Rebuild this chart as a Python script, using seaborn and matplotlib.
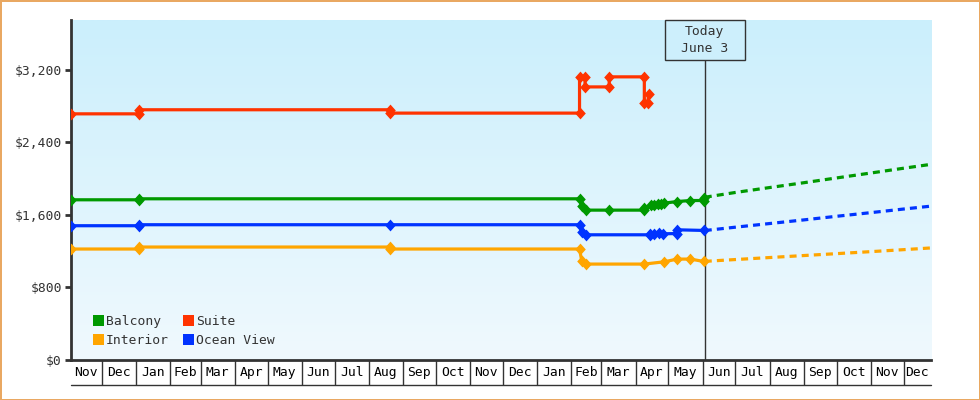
import matplotlib
matplotlib.use("Agg")
import numpy as np
import pandas as pd
import matplotlib.pyplot as plt
import matplotlib.dates as mdates
from matplotlib.patches import Patch, Rectangle
from matplotlib.path import Path
from matplotlib.lines import Line2D
from matplotlib.colors import LinearSegmentedColormap
from matplotlib.ticker import FixedLocator, FixedFormatter, NullFormatter, StrMethodFormatter
import seaborn as sns

sns.set_theme(style="white")
plt.rcParams["font.family"] = ["DejaVu Sans Mono", "DejaVu Sans"]

# ---- data ----
cabins = ["Balcony", "Interior", "Suite", "Ocean View"]
cabin_colors = ["#009900", "#ffa500", "#ff3300", "#0033ff"]

balcony_dates = ["2020-11-03", "2021-01-04", "2021-01-04", "2022-02-09", "2022-02-11", "2022-02-15",
                 "2022-03-08", "2022-04-09", "2022-04-09", "2022-04-15", "2022-04-18", "2022-04-21",
                 "2022-04-24", "2022-04-27", "2022-05-09", "2022-05-21", "2022-06-02", "2022-06-02"]
balcony_prices = [1767, 1767, 1778, 1778, 1701, 1653,
                  1653, 1653, 1675, 1705, 1712, 1720,
                  1725, 1730, 1748, 1759, 1759, 1786]

interior_dates = ["2020-11-03", "2021-01-04", "2021-01-04", "2021-08-20", "2021-08-20", "2022-02-09",
                  "2022-02-11", "2022-02-15", "2022-04-09", "2022-04-27", "2022-05-09", "2022-05-21",
                  "2022-06-02"]
interior_prices = [1224, 1224, 1246, 1246, 1224, 1224,
                   1094, 1058, 1058, 1083, 1113, 1113,
                   1087]

suite_dates = ["2020-11-03", "2021-01-04", "2021-01-04", "2021-08-20", "2021-08-20", "2022-02-09",
               "2022-02-09", "2022-02-14", "2022-02-14", "2022-03-08", "2022-03-08", "2022-04-09",
               "2022-04-09", "2022-04-12", "2022-04-13"]
suite_prices = [2715, 2715, 2760, 2760, 2723, 2723,
                3123, 3123, 3012, 3012, 3123, 3123,
                2836, 2836, 2935]

ocean_dates = ["2020-11-03", "2021-01-04", "2021-01-04", "2021-08-20", "2022-02-09", "2022-02-11",
               "2022-02-15", "2022-04-14", "2022-04-14", "2022-04-18", "2022-04-22", "2022-04-26",
               "2022-05-09", "2022-05-09", "2022-06-02"]
ocean_prices = [1481, 1481, 1492, 1492, 1492, 1407,
                1381, 1381, 1390, 1395, 1400, 1392,
                1395, 1436, 1429]

forecast_dates = ["2022-06-03", "2022-07-01", "2022-08-01", "2022-09-01",
                  "2022-10-01", "2022-11-01", "2022-12-01", "2022-12-26"]
balcony_forecast = [1795, 1848, 1902, 1955, 2008, 2062, 2115, 2158]
interior_forecast = [1088, 1108, 1130, 1152, 1173, 1195, 1217, 1236]
ocean_forecast = [1428, 1465, 1505, 1545, 1585, 1625, 1665, 1697]

y_ticks = [0, 800, 1600, 2400, 3200]
month_labels = ["Nov", "Dec", "Jan", "Feb", "Mar", "Apr", "May", "Jun", "Jul", "Aug", "Sep", "Oct", "Nov",
                "Dec", "Jan", "Feb", "Mar", "Apr", "May", "Jun", "Jul", "Aug", "Sep", "Oct", "Nov", "Dec"]
x_start, x_end = "2020-11-03", "2022-12-26"
today, today_label = "2022-06-03", "Today\nJune 3"

# ---- tidy frames ----
hist = pd.concat([
    pd.DataFrame({"date": pd.to_datetime(d), "price": p, "cabin": c})
    for c, d, p in [("Balcony", balcony_dates, balcony_prices),
                    ("Interior", interior_dates, interior_prices),
                    ("Suite", suite_dates, suite_prices),
                    ("Ocean View", ocean_dates, ocean_prices)]
], ignore_index=True)
fc = pd.concat([
    pd.DataFrame({"date": pd.to_datetime(forecast_dates), "price": p, "cabin": c})
    for c, p in [("Balcony", balcony_forecast), ("Interior", interior_forecast),
                 ("Ocean View", ocean_forecast)]
], ignore_index=True)
palette = dict(zip(cabins, cabin_colors))

ink = "#333333"
fs = 9.4

fig = plt.figure(figsize=(9.8, 4), dpi=100)
fig.patch.set_facecolor("white")
fig.patch.set_edgecolor("#e9a862")
fig.patch.set_linewidth(2)
ax = fig.add_axes([71 / 980, 40 / 400, 860 / 980, 340 / 400])

# slightly tall, rounded-looking diamond like the original markers
diamond = Path([(0, 1), (0.9, 0), (0, -1), (-0.9, 0), (0, 1)],
               [Path.MOVETO, Path.LINETO, Path.LINETO, Path.LINETO, Path.CLOSEPOLY])

sns.lineplot(data=hist, x="date", y="price", hue="cabin", hue_order=cabins, palette=palette,
             estimator=None, sort=False, legend=False, linewidth=2.3,
             marker=diamond, markersize=8.5, markeredgewidth=0, ax=ax, zorder=3)
sns.lineplot(data=fc, x="date", y="price", hue="cabin", palette=palette,
             estimator=None, sort=False, legend=False, linewidth=2.3,
             linestyle=(0, (2.2, 1.6)), ax=ax, zorder=3)

x0, x1 = mdates.date2num(pd.Timestamp(x_start)), mdates.date2num(pd.Timestamp(x_end))
t = mdates.date2num(pd.Timestamp(today))
px_day = 860 / (x1 - x0)

# gradient background
grad = np.linspace(0, 1, 256).reshape(-1, 1)
bg = LinearSegmentedColormap.from_list("bg", ["#f0f9fe", "#cbeffc"])
ax.imshow(grad, extent=(0, 1, 0, 1), transform=ax.transAxes, aspect="auto",
          cmap=bg, origin="lower", zorder=0)

# today marker
ax.axvline(t, ymin=0, ymax=1 - 40 / 340, color=ink, lw=1, zorder=2)
ax.add_patch(Rectangle((t - 40 / px_day, 1 - 40 / 340), 80 / px_day, 40 / 340,
                       transform=ax.get_xaxis_transform(), facecolor="#cdeffc",
                       edgecolor=ink, lw=1, clip_on=False, zorder=5))
ax.text(t, 1 - 20 / 340, today_label, transform=ax.get_xaxis_transform(), ha="center",
        va="center", linespacing=1.45, fontsize=fs, color=ink, zorder=6)

# month boxes on the x axis
bounds = mdates.date2num(pd.date_range("2020-12-01", "2022-12-01", freq="MS"))
edges = np.concatenate([[x0], bounds, [x1]])
mids = (edges[:-1] + edges[1:]) / 2
ax.xaxis.set_major_locator(FixedLocator(bounds))
ax.xaxis.set_major_formatter(NullFormatter())
ax.xaxis.set_minor_locator(FixedLocator(mids))
ax.xaxis.set_minor_formatter(FixedFormatter(month_labels))
ax.tick_params(axis="x", which="major", length=18, width=1, color=ink, direction="out", bottom=True)
ax.tick_params(axis="x", which="minor", length=0, pad=4.5, labelsize=fs, labelcolor="black", bottom=True)
ax.add_line(Line2D([x0, x1], [-25 / 340, -25 / 340], transform=ax.get_xaxis_transform(),
                   color=ink, lw=1, clip_on=False))

ax.set_yticks(y_ticks)
ax.yaxis.set_major_formatter(StrMethodFormatter("${x:,.0f}"))
ax.tick_params(axis="y", length=4, width=2, color=ink, direction="out", pad=2.5,
               labelsize=fs, labelcolor=ink, left=True)

for side in ["top", "right"]:
    ax.spines[side].set_visible(False)
for side in ["left", "bottom"]:
    ax.spines[side].set_color(ink)
    ax.spines[side].set_linewidth(2)

ax.set_xlim(x0, x1)
ax.set_ylim(0, 3750)
ax.set_xlabel("")
ax.set_ylabel("")
ax.grid(False)

handles = [Patch(facecolor=palette[c], edgecolor="none") for c in cabins]
ax.legend(handles, cabins, ncol=2, loc="lower left", bbox_to_anchor=(22 / 860, 13 / 340),
          frameon=False, borderaxespad=0, borderpad=0, handlelength=0.85, handleheight=0.9,
          handletextpad=0.15, columnspacing=1.05, labelspacing=0.45, fontsize=fs, labelcolor=ink)

plt.savefig("out.png", dpi=100)
